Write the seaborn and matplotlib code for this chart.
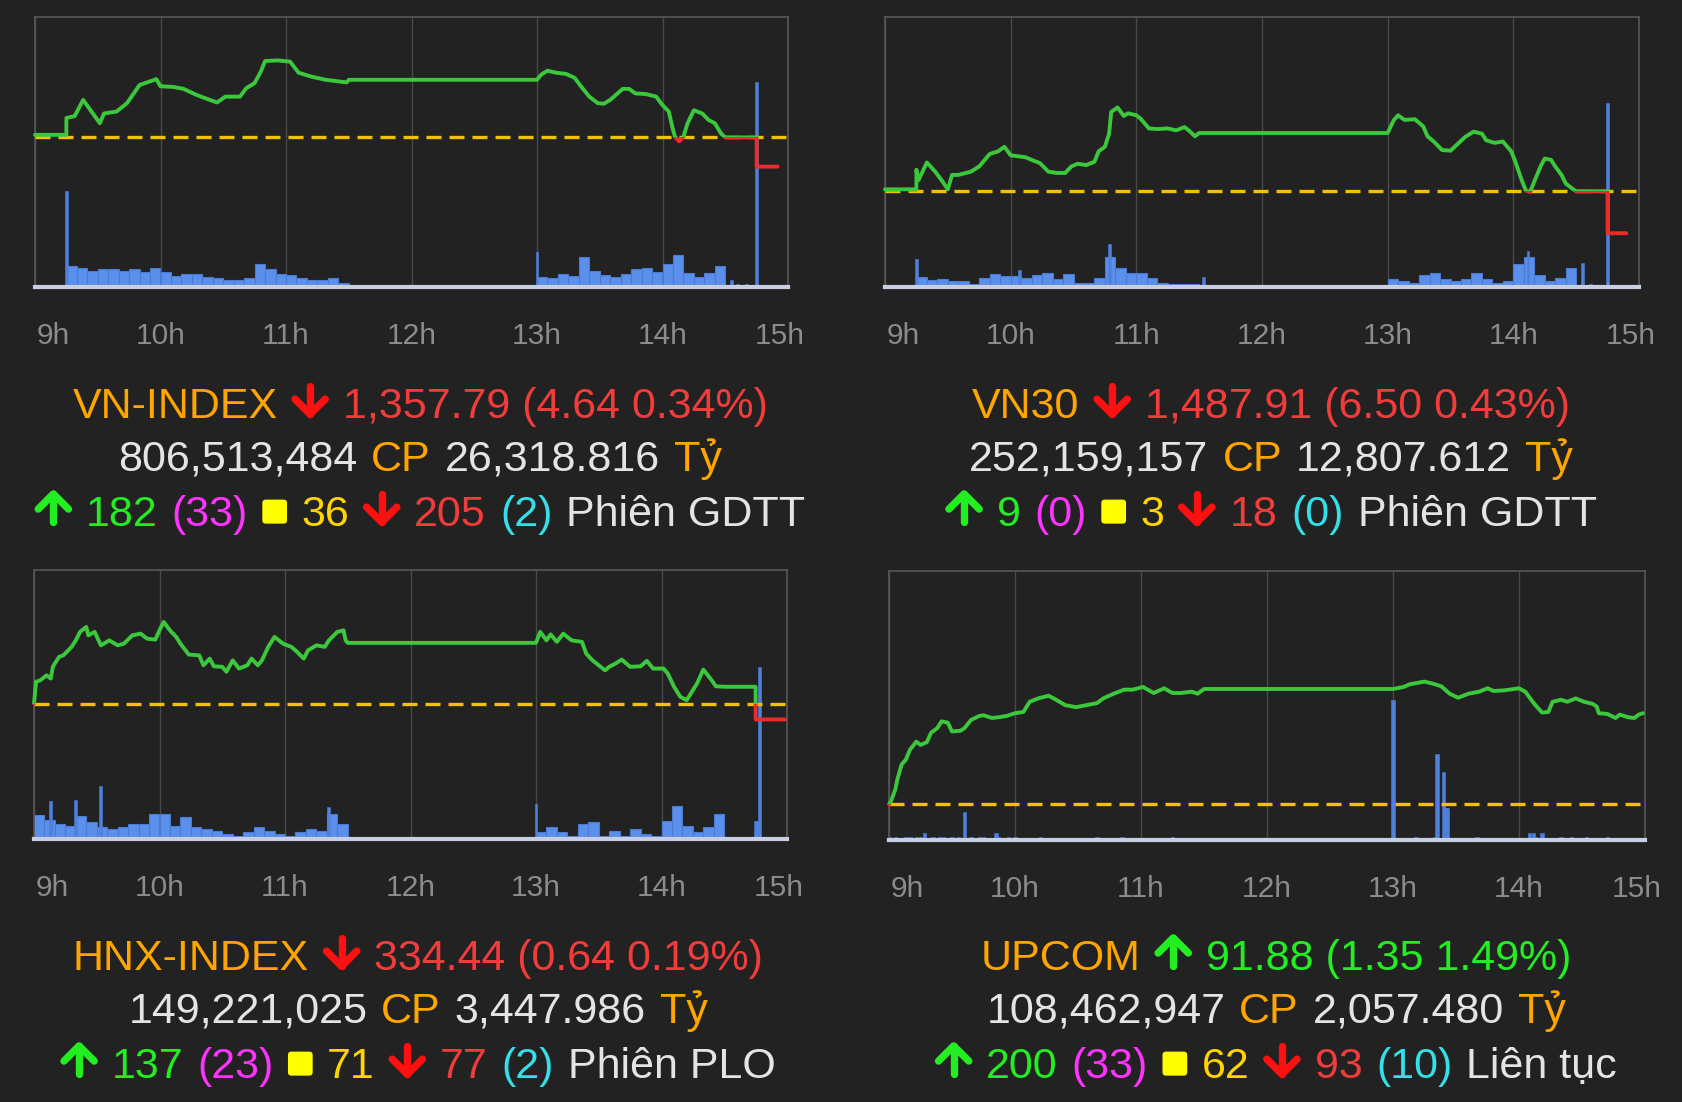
import numpy as np
import matplotlib
matplotlib.use("Agg")
import matplotlib.pyplot as plt
import seaborn as sns
from matplotlib import font_manager
from matplotlib.patches import Rectangle, FancyBboxPatch
from matplotlib.lines import Line2D
from matplotlib.offsetbox import TextArea, DrawingArea, HPacker, AnnotationBbox
from matplotlib.transforms import ScaledTranslation


# ---------------- VN-INDEX ----------------
vni_ref = 1362.43
vni_time = ["09:00", "09:15", "09:15", "09:19", "09:23", "09:31", "09:33", "09:39", "09:44", "09:50",
            "09:58", "10:00", "10:06", "10:11", "10:17", "10:21", "10:27", "10:31", "10:38", "10:41",
            "10:45", "10:48", "10:50", "10:56", "11:02", "11:06", "11:12", "11:19", "11:29", "11:30",
            "13:00", "13:02", "13:05", "13:09", "13:14", "13:18", "13:21", "13:25", "13:29", "13:32",
            "13:35", "13:41", "13:44", "13:47", "13:52", "13:57", "14:00", "14:03", "14:05", "14:06",
            "14:08", "14:10", "14:12", "14:15", "14:19", "14:22", "14:25", "14:28", "14:30", "14:45",
            "14:45", "14:55"]
vni_value = [1362.7, 1362.7, 1365.3, 1365.6, 1368.1, 1364.5, 1366.0, 1366.3, 1367.6, 1370.4,
             1371.3, 1370.2, 1370.1, 1369.8, 1368.9, 1368.4, 1367.7, 1368.6, 1368.6, 1369.9,
             1370.7, 1372.5, 1374.1, 1374.2, 1374.0, 1372.3, 1371.7, 1371.2, 1370.8, 1371.2,
             1371.2, 1372.0, 1372.6, 1372.3, 1372.1, 1371.5, 1370.2, 1368.6, 1367.6, 1367.5,
             1368.1, 1369.8, 1369.8, 1369.1, 1369.0, 1368.6, 1367.3, 1366.3, 1363.5, 1362.4,
             1361.7, 1362.4, 1364.5, 1366.5, 1366.0, 1365.0, 1364.5, 1362.9, 1362.3, 1362.3,
             1357.79, 1357.79]
vni_vol_am = [7.8, 7.0, 6.0, 6.5, 6.5, 6.0, 6.5, 5.5, 7.0, 5.5, 4.0, 4.7, 5.0, 3.7,
              3.5, 2.5, 2.5, 3.5, 8.4, 6.5, 4.7, 4.5, 3.5, 2.5, 2.5, 3.2, 1.6]
vni_vol_pm = [3.7, 3.5, 5.0, 4.0, 11.0, 6.0, 4.5, 3.7, 4.7, 6.5, 7.0, 5.7, 8.4, 12.0, 5.3, 3.7, 5.3, 7.8]
vni_spike_time = ["09:15", "13:00", "14:33", "14:36", "14:40", "14:45"]
vni_spike_vol = [35.5, 13.0, 2.5, 1.0, 1.0, 75.8]

# ---------------- VN30 ----------------
vn30_ref = 1494.41
vn30_time = ["09:00", "09:15", "09:15", "09:16", "09:20", "09:24", "09:27", "09:30", "09:32", "09:35",
             "09:41", "09:45", "09:50", "09:54", "09:57", "10:00", "10:07", "10:10", "10:14", "10:18",
             "10:22", "10:26", "10:29", "10:32", "10:36", "10:40", "10:42", "10:45", "10:47", "10:48",
             "10:51", "10:54", "10:56", "11:00", "11:02", "11:06", "11:10", "11:15", "11:19", "11:23",
             "11:25", "11:28", "11:30", "13:00", "13:03", "13:05", "13:08", "13:13", "13:17", "13:19",
             "13:22", "13:26", "13:30", "13:32", "13:37", "13:41", "13:45", "13:47", "13:51", "13:55",
             "13:59", "14:01", "14:04", "14:06", "14:08", "14:10", "14:13", "14:15", "14:18", "14:20",
             "14:23", "14:25", "14:29", "14:30", "14:45", "14:45", "14:54"]
vn30_value = [1494.6, 1494.6, 1497.6, 1496.0, 1498.7, 1497.3, 1496.0, 1494.6, 1496.8, 1496.8,
              1497.3, 1498.1, 1500.0, 1500.4, 1501.1, 1499.8, 1499.5, 1499.1, 1498.6, 1497.3,
              1497.1, 1497.1, 1498.1, 1498.5, 1498.3, 1498.8, 1500.4, 1501.1, 1503.1, 1506.4,
              1507.1, 1505.8, 1506.2, 1505.9, 1505.4, 1503.9, 1503.8, 1503.9, 1503.6, 1504.1,
              1503.6, 1502.7, 1503.2, 1503.2, 1505.2, 1505.9, 1505.2, 1505.3, 1504.2, 1502.7,
              1501.9, 1500.6, 1500.5, 1501.1, 1502.6, 1503.4, 1503.1, 1502.1, 1501.7, 1501.9,
              1500.4, 1498.8, 1496.0, 1494.4, 1494.2, 1495.8, 1498.1, 1499.3, 1499.1, 1498.1,
              1496.8, 1495.5, 1494.5, 1494.3, 1494.3, 1487.91, 1487.91]
vn30_vol_am = [3.7, 2.5, 2.9, 2.2, 2.2, 1.2, 3.5, 4.7, 4.1, 4.1, 3.5, 4.5, 5.3, 2.9,
               4.7, 1.6, 1.6, 3.5, 11.0, 7.2, 5.3, 5.3, 3.5, 1.6, 1.0, 1.0, 1.0]
vn30_vol_pm = [2.9, 2.2, 1.6, 4.5, 5.3, 2.9, 2.2, 2.9, 5.3, 2.9, 1.6, 2.2, 8.4, 11.0, 4.5, 2.2, 3.5, 7.2]
vn30_spike_time = ["09:15", "10:04", "10:47", "11:32", "14:07", "14:33", "14:37", "14:45"]
vn30_spike_vol = [10.3, 6.2, 16.0, 3.7, 13.2, 9.0, 1.0, 68.0]

# ---------------- HNX-INDEX ----------------
hnx_ref = 335.08
hnx_time = ["09:00", "09:01", "09:03", "09:06", "09:08", "09:09", "09:12", "09:14", "09:18", "09:20",
            "09:22", "09:25", "09:26", "09:29", "09:32", "09:36", "09:40", "09:43", "09:47", "09:51",
            "09:54", "09:58", "10:00", "10:02", "10:05", "10:08", "10:10", "10:14", "10:19", "10:21",
            "10:24", "10:26", "10:30", "10:32", "10:35", "10:38", "10:42", "10:44", "10:47", "10:49",
            "10:52", "10:55", "10:59", "11:03", "11:05", "11:09", "11:11", "11:15", "11:19", "11:21",
            "11:25", "11:28", "11:29", "11:30", "13:00", "13:02", "13:05", "13:07", "13:10", "13:13",
            "13:17", "13:22", "13:24", "13:27", "13:29", "13:33", "13:35", "13:38", "13:41", "13:45",
            "13:50", "13:53", "13:56", "14:01", "14:03", "14:06", "14:09", "14:12", "14:14", "14:17",
            "14:20", "14:24", "14:26", "14:30", "14:45", "14:45", "14:59"]
hnx_value = [335.08, 335.95, 336.01, 336.21, 336.08, 336.55, 336.95, 337.01, 337.35, 337.61,
             337.95, 338.15, 337.81, 337.95, 337.41, 337.61, 337.41, 337.48, 337.81, 337.88,
             337.68, 337.64, 338.01, 338.35, 338.01, 337.75, 337.48, 337.04, 337.01, 336.61,
             336.88, 336.57, 336.55, 336.35, 336.81, 336.48, 336.61, 336.88, 336.61, 336.81,
             337.35, 337.75, 337.48, 337.35, 337.21, 336.88, 337.21, 337.41, 337.35, 337.61,
             337.95, 338.01, 337.61, 337.51, 337.51, 337.95, 337.61, 337.85, 337.55, 337.88,
             337.61, 337.55, 337.08, 336.81, 336.68, 336.41, 336.55, 336.68, 336.84, 336.55,
             336.57, 336.79, 336.48, 336.48, 336.28, 335.75, 335.35, 335.21, 335.48, 335.88,
             336.44, 336.01, 335.77, 335.75, 335.75, 334.44, 334.44]
hnx_vol_am = [9.0, 7.0, 5.5, 5.0, 8.7, 6.2, 4.3, 3.7, 4.3, 5.5,
              5.5, 9.3, 9.3, 5.0, 8.0, 4.3, 3.7, 3.1, 1.9, 1.2,
              2.5, 4.3, 3.1, 1.9, 1.2, 2.5, 3.7, 3.1, 9.3, 5.5]
hnx_vol_pm = [2.5, 4.3, 2.5, 1.2, 5.5, 6.2, 1.2, 3.1, 1.2, 3.7, 1.9, 1.2, 6.8, 12.4, 5.0, 2.5, 4.3, 9.3]
hnx_spike_time = ["09:08", "09:20", "09:32", "11:21", "13:00", "14:45", "14:46", "14:47"]
hnx_spike_vol = [14.0, 14.5, 19.8, 11.8, 13.0, 6.8, 6.8, 63.8]

# ---------------- UPCOM ----------------
upc_ref = 90.53
upc_time = ["09:00", "09:01", "09:03", "09:04", "09:06", "09:08", "09:10", "09:13", "09:15", "09:18",
            "09:20", "09:23", "09:25", "09:28", "09:30", "09:34", "09:36", "09:39", "09:43", "09:45",
            "09:49", "09:52", "09:56", "10:00", "10:04", "10:07", "10:11", "10:16", "10:19", "10:24",
            "10:29", "10:34", "10:39", "10:42", "10:47", "10:52", "10:56", "11:01", "11:06", "11:11",
            "11:15", "11:19", "11:24", "11:27", "11:30", "13:00", "13:05", "13:08", "13:15", "13:20",
            "13:23", "13:27", "13:31", "13:36", "13:41", "13:45", "13:48", "13:53", "14:00", "14:03",
            "14:07", "14:11", "14:14", "14:16", "14:20", "14:23", "14:27", "14:31", "14:35", "14:37",
            "14:38", "14:42", "14:46", "14:48", "14:52", "14:55", "14:57", "14:59"]
upc_value = [90.53, 90.58, 90.75, 90.90, 91.12, 91.19, 91.34, 91.46, 91.41, 91.45,
             91.59, 91.66, 91.76, 91.74, 91.61, 91.62, 91.66, 91.78, 91.84, 91.85,
             91.81, 91.82, 91.84, 91.88, 91.90, 92.05, 92.10, 92.14, 92.09, 92.00,
             91.97, 92.00, 92.03, 92.10, 92.17, 92.23, 92.23, 92.27, 92.18, 92.25,
             92.18, 92.18, 92.20, 92.17, 92.24, 92.24, 92.27, 92.31, 92.35, 92.31,
             92.28, 92.17, 92.11, 92.17, 92.20, 92.25, 92.21, 92.22, 92.25, 92.20,
             92.03, 91.89, 91.90, 92.05, 92.08, 92.05, 92.10, 92.05, 92.02, 91.98,
             91.88, 91.87, 91.81, 91.86, 91.82, 91.81, 91.86, 91.88]
upc_vol_am = []
upc_vol_pm = []
upc_spike_time = ["09:00", "09:03", "09:08", "09:10", "09:13", "09:15", "09:17", "09:21", "09:24", "09:26",
                  "09:30", "09:33", "09:36", "09:39", "09:43", "09:45", "09:51", "09:52", "09:57", "10:00",
                  "10:12", "10:39", "10:51", "11:15", "13:00", "13:11", "13:20", "13:21", "13:24", "13:25",
                  "13:26", "13:40", "14:05", "14:07", "14:08", "14:11", "14:20", "14:25", "14:32", "14:42"]
upc_spike_vol = [1.2, 1.2, 1.2, 1.2, 1.2, 1.2, 2.5, 1.2, 1.2, 1.2,
                 1.2, 1.2, 10.5, 1.2, 1.2, 1.2, 2.5, 1.2, 1.2, 1.2,
                 1.2, 1.2, 1.2, 1.2, 52.0, 1.2, 1.2, 31.9, 25.4, 12.0,
                 12.0, 1.2, 2.5, 2.5, 1.2, 2.5, 1.2, 1.2, 1.2, 1.2]

# ---------------- summary text ----------------
names = ["VN-INDEX", "VN30", "HNX-INDEX", "UPCOM"]
quotes = ["1,357.79 (4.64 0.34%)", "1,487.91 (6.50 0.43%)", "334.44 (0.64 0.19%)", "91.88 (1.35 1.49%)"]
directions = ["down", "down", "down", "up"]
shares = ["806,513,484", "252,159,157", "149,221,025", "108,462,947"]
turnover = ["26,318.816", "12,807.612", "3,447.986", "2,057.480"]
advancers = ["182", "9", "137", "200"]
ceiling = ["(33)", "(0)", "(23)", "(33)"]
unchanged = ["36", "3", "71", "62"]
decliners = ["205", "18", "77", "93"]
floor_ = ["(2)", "(0)", "(2)", "(10)"]
sessions = ["Phiên GDTT", "Phiên GDTT", "Phiên PLO", "Liên tục"]
hour_labels = ["9h", "10h", "11h", "12h", "13h", "14h", "15h"]


# ---------------- style ----------------
BG = "#222222"
GREEN = "#3cc83c"
RED = "#ee2b2b"
REF_YELLOW = "#f2c200"
BAR = "#5a8fec"
BAR_EDGE = "#4a7bd0"
SPIKE = "#4f80dc"
ORANGE = "#ffa500"
LIGHT = "#e4e4e4"
T_RED = "#f23c3c"
T_GREEN = "#22ee22"
A_RED = "#ff1010"
MAGENTA = "#ff33ff"
GOLD = "#ffd400"
CYAN = "#33e0e8"
SQUARE = "#ffff00"
TICK = "#8c8c8c"

W, H = 1682, 1102

sns.set_theme(style="dark", rc={"axes.facecolor": BG, "figure.facecolor": BG,
                                "savefig.facecolor": BG})
installed = {f.name for f in font_manager.fontManager.ttflist}
main_font = "Liberation Sans Narrow" if "Liberation Sans Narrow" in installed else "Liberation Sans"
FAMILY = [main_font, "DejaVu Sans"]
plt.rcParams["font.family"] = FAMILY
FS = 31


def hrs(ts):
    return np.array([int(s[:2]) + int(s[3:]) / 60 for s in ts])


def bins(start, n):
    return hrs([start])[0] + np.arange(n) * 5 / 60


def txt(s, color):
    return TextArea(s, textprops=dict(color=color, fontsize=FS, family=FAMILY))


def arrow(up, color):
    # thick arrow with round caps, about 27 x 26 pt
    da = DrawingArea(27, 25, 0, 0)
    lo, hi, mid = 2.6, 23.0, 13.5
    if up:
        stem = ([mid, mid], [lo, hi])
        head = ([2.6, mid, 24.4], [hi - 10.9, hi, hi - 10.9])
    else:
        stem = ([mid, mid], [hi, lo])
        head = ([2.6, mid, 24.4], [lo + 10.9, lo, lo + 10.9])
    for xs, ys in (stem, head):
        da.add_artist(Line2D(xs, ys, color=color, lw=5.3, solid_capstyle="round",
                             solid_joinstyle="round"))
    return da


def square():
    da = DrawingArea(18.5, 22, 0, 0)
    da.add_artist(FancyBboxPatch((0.4, 1.6), 17.8, 17.3, boxstyle="round,pad=0,rounding_size=2.5",
                                 fc=SQUARE, ec="none"))
    return da


def put_row(fig, parts, x, y_top):
    box = HPacker(children=parts, align="baseline", pad=0, sep=10)
    ab = AnnotationBbox(box, (x, H - y_top - 2), xycoords="figure pixels",
                        box_alignment=(0.5, 0.5), frameon=False, pad=0)
    fig.add_artist(ab)


panels = [
    dict(box=(35, 17, 788, 287), ylim=(1339.2, 1380.9), ref=vni_ref, time=vni_time, value=vni_value,
         am_start="09:15", am=vni_vol_am, pm=vni_vol_pm, sp_t=vni_spike_time, sp_v=vni_spike_vol,
         sp_w=1.4, text=(420, 403)),
    dict(box=(885, 17, 1639, 287), ylim=(1479.7, 1520.9), ref=vn30_ref, time=vn30_time, value=vn30_value,
         am_start="09:15", am=vn30_vol_am, pm=vn30_vol_pm, sp_t=vn30_spike_time, sp_v=vn30_spike_vol,
         sp_w=1.4, text=(1271, 403)),
    dict(box=(34, 570, 787, 839), ylim=(329.65, 340.43), ref=hnx_ref, time=hnx_time, value=hnx_value,
         am_start="09:00", am=hnx_vol_am, pm=hnx_vol_pm, sp_t=hnx_spike_time, sp_v=hnx_spike_vol,
         sp_w=1.4, text=(418, 955)),
    dict(box=(889, 571, 1645, 840), ylim=(90.0, 93.99), ref=upc_ref, time=upc_time, value=upc_value,
         am_start="09:00", am=upc_vol_am, pm=upc_vol_pm, sp_t=upc_spike_time, sp_v=upc_spike_vol,
         sp_w=1.6, text=(1276, 955)),
]

fig = plt.figure(figsize=(W / 100, H / 100), dpi=100)

for i, p in enumerate(panels):
    x0, y0, x1, y1 = p["box"]
    ax = fig.add_axes([x0 / W, 1 - y1 / H, (x1 - x0) / W, (y1 - y0) / H])
    ax.set_facecolor(BG)

    # volume bars (percent of panel height)
    if len(p["am"]):
        ax.bar(bins(p["am_start"], len(p["am"])), p["am"], width=5 / 60, align="edge",
               color=BAR, edgecolor=BAR_EDGE, linewidth=0.8)
    if len(p["pm"]):
        ax.bar(bins("13:00", len(p["pm"])), p["pm"], width=5 / 60, align="edge",
               color=BAR, edgecolor=BAR_EDGE, linewidth=0.8)
    ax.bar(hrs(p["sp_t"]), p["sp_v"], width=p["sp_w"] / 60, align="center",
           color=SPIKE, edgecolor=SPIKE, linewidth=0.4)
    ax.set_ylim(0, 100)
    ax.set_xlim(9, 15)
    ax.set_yticks([])
    ax.set_xticks(range(9, 16))
    ax.set_xticklabels(hour_labels)
    ax.tick_params(axis="x", length=0, pad=25, labelsize=21.5, labelcolor=TICK)
    ax.xaxis.grid(True, color="#4a4a4a", linewidth=1.0)
    ax.set_axisbelow(True)
    for side in ("top", "left", "right"):
        ax.spines[side].set_color("#575757")
        ax.spines[side].set_linewidth(1.2)
    ax.spines["bottom"].set_color("#c8cfe0")
    ax.spines["bottom"].set_linewidth(3)
    labels = ax.get_xticklabels()
    labels[0].set_horizontalalignment("left")
    labels[0].set_transform(labels[0].get_transform()
                            + ScaledTranslation(0.02, 0, fig.dpi_scale_trans))
    labels[-1].set_transform(labels[-1].get_transform()
                             + ScaledTranslation(-0.08, 0, fig.dpi_scale_trans))

    # price line on a twin axis
    ax2 = ax.twinx()
    ax2.set_ylim(*p["ylim"])
    ax2.set_yticks([])
    for s in ax2.spines.values():
        s.set_visible(False)
    ref = p["ref"]
    ax2.axhline(ref, color=REF_YELLOW, linewidth=2.4, dashes=(4.5, 2.4), zorder=2)
    t = hrs(p["time"])
    v = np.array(p["value"])
    for color, rect in ((GREEN, Rectangle((8, ref), 8, 1000, transform=ax2.transData)),
                        (RED, Rectangle((8, ref - 1000), 8, 1000, transform=ax2.transData))):
        sns.lineplot(x=t, y=v, ax=ax2, color=color, linewidth=2.8, sort=False,
                     estimator=None, solid_joinstyle="round", zorder=3)
        ax2.lines[-1].set_clip_path(rect)
    ax2.set_xlim(9, 15)
    ax2.set_xlabel("")
    ax2.set_ylabel("")

    # summary rows
    tx, ty = p["text"]
    up = directions[i] == "up"
    qcol = T_GREEN if up else T_RED
    put_row(fig, [txt(names[i], ORANGE), arrow(up, T_GREEN if up else A_RED), txt(quotes[i], qcol)],
            tx, ty)
    put_row(fig, [txt(shares[i], LIGHT), txt("CP", ORANGE), txt(turnover[i], LIGHT), txt("Tỷ", ORANGE)],
            tx, ty + 54)
    put_row(fig, [arrow(True, T_GREEN), txt(advancers[i], T_GREEN), txt(ceiling[i], MAGENTA), square(),
                  txt(unchanged[i], GOLD), arrow(False, A_RED), txt(decliners[i], T_RED),
                  txt(floor_[i], CYAN), txt(sessions[i], LIGHT)],
            tx, ty + 108)

fig.savefig("out.png", dpi=100, facecolor=BG)
